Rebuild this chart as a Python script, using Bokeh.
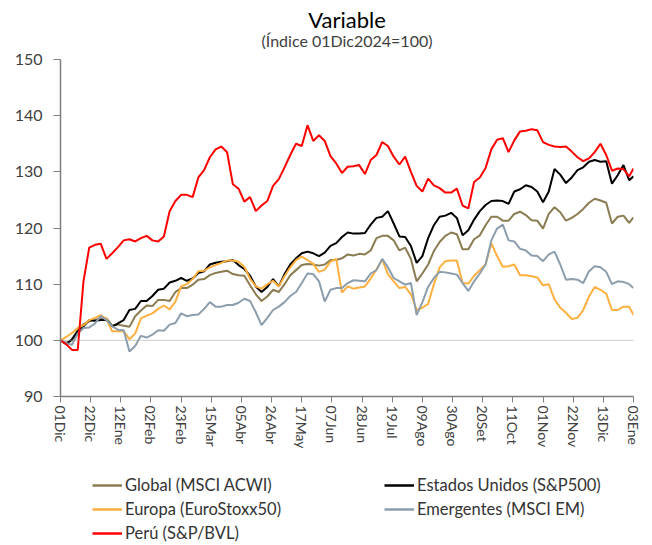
from bokeh.plotting import figure
from bokeh.layouts import column
from bokeh.models import (ColumnDataSource, Legend, LegendItem, Label, Span,
                          FixedTicker, Range1d)
from bokeh.embed import file_html
from bokeh.resources import INLINE

FONT = "Lato"

# x: days since 01Dic2024 (every 4 days, last point 03Ene2026)
dias = list(range(0, 397, 4)) + [399]

tick_dias = [0, 21, 42, 63, 84, 105, 126, 147, 168, 189, 210, 231, 252, 273,
             294, 315, 336, 357, 378, 399]
tick_labels = ["01Dic", "22Dic", "12Ene", "02Feb", "23Feb", "15Mar", "05Abr",
               "26Abr", "17May", "07Jun", "28Jun", "19Jul", "09Ago", "30Ago",
               "20Set", "11Oct", "01Nov", "22Nov", "13Dic", "03Ene"]

global_acwi = [100, 99.6, 100, 101.9, 102.9, 103.4, 103.6, 104, 103.9, 102.6,
               102.8, 102.6, 102.4, 104.3, 105.3, 106.2, 106.1, 107.2, 107.2, 107,
               108.6, 109.3, 109.3, 109.9, 110.8, 110.9, 111.6, 112, 112.2, 112.4,
               111.8, 111.6, 111.5, 109.8, 108.2, 107, 107.8, 109, 108.6, 110,
               111.6, 112.5, 113.4, 113.6, 113.5, 113.3, 113.5, 114.3, 114.3, 114.6,
               115.3, 115.1, 115.4, 115.3, 116, 118.2, 118.6, 118.6, 117.8, 116,
               116.5, 114.5, 110.5, 111.9, 113.5, 115.9, 117.5, 118.6, 119.2, 118.9,
               116.2, 116.2, 118, 118.7, 120.5, 122, 122, 121.3, 121.3, 122.5,
               122.9, 122.3, 121.4, 121.3, 119.9, 122.5, 123.7, 122.8, 121.3, 121.8,
               122.5, 123.4, 124.5, 125.2, 124.9, 124.5, 120.8, 122, 122.2, 120.9,
               121.9]

eeuu_sp500 = [100, 99.3, 100.2, 101.6, 102.5, 103.6, 103.5, 103.6, 103.6, 102.5,
              103, 103.6, 105.4, 105.6, 107, 107, 107.9, 109, 109.2, 110.3,
              110.6, 111.1, 110.6, 111, 112, 112.3, 113.5, 113.8, 114, 114.1,
              114.3, 113.4, 112.7, 111.5, 109.6, 108.6, 109.5, 110.9, 109.6, 111.8,
              113.5, 114.6, 115.5, 115.8, 115.5, 115, 115.6, 116.8, 117.3, 118.4,
              119.2, 119, 119, 119.1, 120.6, 121.8, 122, 123, 120.8, 118.5,
              118.4, 116.8, 113.8, 115, 118.2, 120.5, 122, 122.2, 122.7, 121.8,
              118.7, 119.6, 121.5, 123, 124.1, 124.8, 124.9, 124.8, 124.3, 126.5,
              126.9, 127.6, 127.3, 126.5, 124.6, 126.5, 130.5, 129.5, 128, 129,
              130.3, 130.8, 131.8, 132.1, 131.8, 131.9, 127.9, 129.4, 131.2, 128.5,
              129.2]

europa_stoxx = [100, 100.6, 101.3, 102.2, 102.7, 103.6, 104, 104.5, 103.8, 101.6,
                101.6, 101.6, 100.2, 101.2, 103.9, 104.4, 104.8, 105.6, 106.2, 105.5,
                106.9, 109.6, 110, 110.9, 112.3, 112.4, 113, 113.4, 113.8, 114.2,
                114.2, 114, 113.1, 111, 109.6, 109.2, 110, 110.6, 109.6, 111.4,
                113, 114.3, 114.9, 114.3, 113.6, 112.2, 112.6, 114, 114.5, 108.5,
                109.6, 109.2, 109.4, 109.6, 111, 112.6, 114.4, 111.8, 110.5, 109.3,
                109.5, 108.2, 105.4, 105.8, 106.5, 110, 113, 114.1, 114.2, 114.2,
                110.2, 110.1, 111.5, 112.5, 113.5, 117.3, 115, 113.1, 113.2, 113.5,
                111.6, 111.6, 111.4, 111.2, 109.8, 110, 107.3, 105.8, 104.9, 103.8,
                104, 105.4, 107.8, 109.5, 109, 108.3, 105.4, 105.4, 106, 106,
                104.5]

emergentes_em = [100, 99.5, 99.2, 101.2, 102.2, 102.3, 103, 104.3, 103.6, 102.5,
                 101.9, 101.8, 98, 99, 100.8, 100.5, 101, 101.8, 101.7, 102.8,
                 103.1, 104.8, 104.3, 104.5, 104.6, 105.6, 106.8, 106, 106, 106.3,
                 106.3, 106.7, 107.4, 107, 105, 102.7, 104, 105.4, 106, 106.8,
                 107.9, 108.6, 110.2, 111.9, 111.8, 110.5, 106.9, 109, 109.3, 109.3,
                 110.2, 110.7, 110.6, 110.5, 111.9, 112.5, 114.5, 113, 111.1, 110.5,
                 109.9, 110.2, 104.5, 106.8, 109.5, 111.1, 112.2, 112.1, 111.9, 111.7,
                 110.2, 108.8, 110.5, 111.9, 113.5, 117.8, 119.9, 120.6, 117.8, 117.6,
                 116.3, 116, 115.1, 115, 114.1, 115.3, 115.8, 113.5, 110.8, 110.9,
                 110.8, 110.2, 112.3, 113.2, 113, 112.2, 110, 110.5, 110.4, 110,
                 109.3]

peru_bvl = [100, 99.3, 98.3, 98.3, 110.5, 116.5, 117, 117.2, 114.5, 115.5,
            116.6, 117.8, 118, 117.6, 118.2, 118.6, 117.8, 117.6, 118.5, 123,
            124.8, 125.9, 125.9, 125.5, 129, 130.3, 132.6, 134, 134.5, 133.5,
            127.8, 127, 124.7, 125.5, 123, 124, 124.8, 127.5, 128.7, 130.8,
            133, 135, 134.6, 138.3, 135.5, 136.5, 135.5, 132.8, 131.5, 129.8,
            130.9, 131, 131.2, 129.6, 132.1, 133, 135.3, 134.6, 132.7, 131.3,
            132.7, 130, 127.5, 126.5, 128.8, 127.6, 127.1, 126.3, 126.3, 127,
            124, 123.5, 128.2, 129, 130.7, 134, 135.7, 136, 133.5, 135.6,
            137.2, 137.3, 137.6, 137.4, 135.3, 134.8, 134.5, 134.4, 134.5, 133.6,
            132.6, 131.9, 132.4, 133.5, 135, 133, 130.2, 130.6, 130.5, 129.2,
            130.6]

series_names = ["Global (MSCI ACWI)", "Estados Unidos (S&P500)",
                "Europa (EuroStoxx50)", "Emergentes (MSCI EM)", "Perú (S&P/BVL)"]
series_cols = ["glo", "usa", "eur", "em", "peru"]
series_colors = ["#8B7B50", "#000000", "#FDB03F", "#8C9EAD", "#FF0000"]

titulo = "Variable"
subtitulo = "(Índice 01Dic2024=100)"

src = ColumnDataSource(dict(x=dias, glo=global_acwi, usa=eeuu_sp500,
                            eur=europa_stoxx, em=emergentes_em, peru=peru_bvl))


def strip(height):
    f = figure(width=652, height=height, output_backend="svg",
               toolbar_location=None, title=None, x_range=Range1d(0, 1),
               y_range=Range1d(0, height), x_axis_type=None, y_axis_type=None,
               min_border=0)
    f.outline_line_color = None
    f.xgrid.visible = False
    f.ygrid.visible = False
    return f


# ---------------- header strip (titles) ----------------
ph = strip(49)
ph.add_layout(Label(x=0.5, y=30, text=titulo, text_align="center",
                    text_baseline="middle", text_font=FONT,
                    text_font_size="22px", text_color="#000000"))
ph.add_layout(Label(x=0.5, y=9.5, text=subtitulo, text_align="center",
                    text_baseline="middle", text_font=FONT,
                    text_font_size="16px", text_color="#404040"))

# ---------------- main chart ----------------
p = figure(width=652, height=411, output_backend="svg", toolbar_location=None,
           title=None, x_range=Range1d(0, 399), y_range=Range1d(90, 150),
           min_border_left=60, min_border_right=19, min_border_top=10,
           min_border_bottom=64)
p.outline_line_color = None
p.xgrid.visible = False
p.ygrid.visible = False
p.background_fill_color = "white"

ref = Span(location=100, dimension="width", line_color="#9a9a9a",
           line_dash="1 1", line_width=1)
p.add_layout(ref)

for col, color in zip(series_cols, series_colors):
    p.line("x", col, source=src, line_color=color, line_width=2)

p.xaxis.ticker = FixedTicker(ticks=tick_dias)
p.xaxis.major_label_overrides = {t: l for t, l in zip(tick_dias, tick_labels)}
p.xaxis.major_label_orientation = "vertical"
p.xaxis.minor_tick_line_color = None
p.xaxis.major_tick_out = 6
p.xaxis.major_tick_in = 0
p.xaxis.axis_line_color = "#7f7f7f"
p.xaxis.axis_line_width = 1.5
p.xaxis.major_tick_line_color = "#7f7f7f"
p.xaxis.major_label_text_font = FONT
p.xaxis.major_label_text_font_size = "14px"
p.xaxis.major_label_text_color = "#404040"
p.xaxis.major_label_standoff = 3

p.yaxis.ticker = FixedTicker(ticks=[90, 100, 110, 120, 130, 140, 150])
p.yaxis.minor_tick_line_color = None
p.yaxis.major_tick_out = 7
p.yaxis.major_tick_in = 0
p.yaxis.axis_line_color = "#7f7f7f"
p.yaxis.axis_line_width = 1.5
p.yaxis.major_tick_line_color = "#7f7f7f"
p.yaxis.major_label_text_font = FONT
p.yaxis.major_label_text_font_size = "16px"
p.yaxis.major_label_text_color = "#404040"
p.yaxis.major_label_standoff = 11

# ---------------- legend strip ----------------
pl = strip(85)
nan = float("nan")
leg_renderers = [pl.line(x=[nan], y=[nan], line_color=c, line_width=2.5)
                 for c in series_colors]


def make_legend(idx, loc):
    return Legend(items=[LegendItem(label=series_names[i],
                                    renderers=[leg_renderers[i]]) for i in idx],
                  location=loc, orientation="vertical", padding=0, margin=0,
                  spacing=0, glyph_width=30, glyph_height=24,
                  label_height=24, label_standoff=3, border_line_color=None,
                  background_fill_alpha=0, label_text_font=FONT,
                  label_text_font_size="16.5px", label_text_color="#333333")


pl.add_layout(make_legend([0, 2, 4], (32, 0)))
pl.add_layout(make_legend([1, 3], (324, 24)))

open("out.html", "w").write(file_html(column(ph, p, pl), INLINE))
